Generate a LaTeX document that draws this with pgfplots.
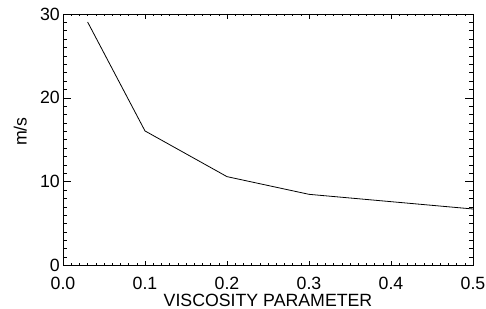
\documentclass[border=0pt]{standalone}
\usepackage{fontspec}
\setmainfont{Liberation Sans}
\usepackage{pgfplots}
\pgfplotsset{compat=1.18}
\begin{document}
\begin{tikzpicture}
\path[use as bounding box] (-63bp,-43.5bp) rectangle (423bp,265.5bp);
\begin{axis}[
  scale only axis,
  width=410bp, height=251.5bp,
  xmin=0, xmax=0.5, ymin=0, ymax=30,
  axis line style={line width=0.8bp},
  xtick={0,0.1,0.2,0.3,0.4,0.5},
  ytick={0,10,20,30},
  minor x tick num=9,
  minor y tick num=9,
  tick align=inside,
  tick style={line width=0.6bp, black},
  major x tick style={/pgfplots/major tick length=5bp},
  minor x tick style={/pgfplots/minor tick length=2.5bp},
  major y tick style={/pgfplots/major tick length=8.2bp},
  minor y tick style={/pgfplots/minor tick length=4.1bp},
  /pgf/number format/assume math mode=true,
  xticklabel style={/pgf/number format/fixed, /pgf/number format/fixed zerofill, /pgf/number format/precision=1},
  scaled x ticks=false,
  tick label style={font=\fontsize{17.8}{20}\selectfont, inner sep=0pt},
  xticklabel style={anchor=north, yshift=-11.5bp},
  yticklabel style={anchor=east, xshift=-3bp},
  label style={font=\fontsize{17.8}{20}\selectfont, inner sep=0pt},
  xlabel={VISCOSITY PARAMETER},
  ylabel={m/s},
  xlabel style={at={(rel axis cs:0.5,0)}, anchor=base, yshift=-41bp},
  ylabel style={at={(axis description cs:-0.0878,0.532)}, anchor=south, rotate=0},
]
\addplot[black, line width=0.8bp, mark=none] coordinates {
  (0.03,29.05) (0.1,16.05) (0.2,10.6) (0.3,8.49) (0.5,6.74)
};
\end{axis}
\end{tikzpicture}
\end{document}
